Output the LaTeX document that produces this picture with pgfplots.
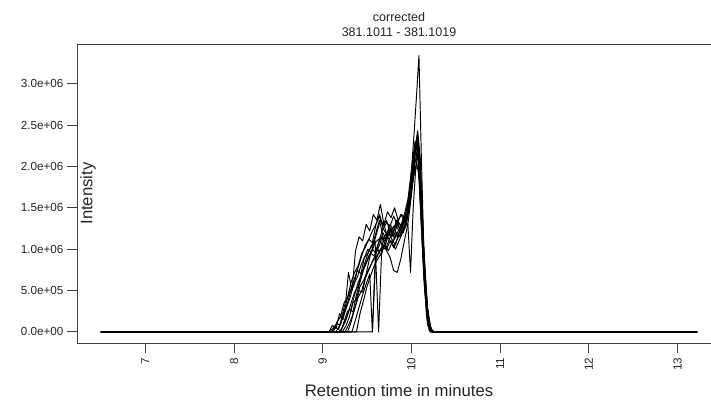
\documentclass[border=0pt]{standalone}
\usepackage{fontspec}
\setmainfont{Liberation Sans}
\usepackage{pgfplots}
\pgfplotsset{compat=1.18}
\begin{document}
\begin{tikzpicture}
\begin{axis}[
  at={(0,0)}, anchor=south west,
  scale only axis, width=644pt, height=299pt,
  xmin=6.23, xmax=13.49, ymin=-0.134, ymax=3.48,
  axis line style={black!75, line width=0.9pt},
  tick style={black!75, line width=0.9pt},
  tick align=outside, tick pos=left, major tick length=10pt,
  xtick={7,8,9,10,11,12,13},
  xticklabels={7,8,9,10,11,12,13},
  ytick={0,0.5,1,1.5,2,2.5,3},
  yticklabels={0.0e+00,5.0e+05,1.0e+06,1.5e+06,2.0e+06,2.5e+06,3.0e+06},
  xticklabel style={rotate=90, anchor=east, font=\fontsize{11.7}{14}\selectfont, text=black!85, xshift=-1pt},
  yticklabel style={font=\fontsize{11.7}{14}\selectfont, text=black!85},
  xlabel={Retention time in minutes},
  xlabel style={at={(axis description cs:0.5,0)}, anchor=base, yshift=-53pt, font=\fontsize{16.7}{20}\selectfont, text=black!85},
  ylabel={Intensity},
  ylabel style={at={(axis description cs:0.0171,0.5)}, anchor=center, font=\fontsize{16.7}{20}\selectfont, text=black!85},
  title={corrected\\381.1011 - 381.1019},
  title style={at={(axis description cs:0.5,1)}, anchor=south, align=center, yshift=-2pt, font=\fontsize{12.5}{15}\selectfont, text=black!85},
  tr/.style={black, line width=0.95pt, mark=none, line join=round},
  clip=false,
]
\addplot[tr] coordinates {(6.5,0)(9.10,0)(9.14,0.06)(9.18,0.03)(9.22,0.2)(9.26,0.38)(9.29,0.72)(9.33,0.5)(9.37,0.98)(9.41,1.15)(9.45,1.1)(9.49,1.3)(9.53,1.22)(9.57,1.42)(9.61,1.35)(9.65,1.54)(9.69,1.3)(9.73,1.15)(9.77,1.25)(9.81,1.12)(9.85,1.22)(9.89,1.3)(9.93,1.35)(9.97,1.5)(10.01,1.85)(10.05,2.2)(10.08,2.05)(10.12,1.2)(10.16,0.45)(10.2,0.1)(10.24,0)(13.22,0)};
\addplot[tr] coordinates {(6.5,0)(9.15,0)(9.19,0.08)(9.23,0.18)(9.27,0.3)(9.31,0.42)(9.35,0.58)(9.39,0.66)(9.43,0.8)(9.47,0.9)(9.51,1.0)(9.55,0.96)(9.59,1.08)(9.63,1.12)(9.67,1.05)(9.71,1.18)(9.75,1.12)(9.79,1.22)(9.83,1.28)(9.87,1.2)(9.91,1.35)(9.95,1.45)(9.99,1.8)(10.03,2.4)(10.06,2.9)(10.085,3.34)(10.11,2.2)(10.14,1.0)(10.18,0.3)(10.22,0.04)(10.25,0)(13.22,0)};
\addplot[tr] coordinates {(6.5,0)(9.2,0)(9.24,0.12)(9.28,0.25)(9.32,0.28)(9.36,0.45)(9.4,0.6)(9.44,0.7)(9.48,0.85)(9.52,0.98)(9.56,1.05)(9.6,1.2)(9.64,1.35)(9.68,1.15)(9.72,0.98)(9.76,0.9)(9.8,0.74)(9.84,0.72)(9.88,0.88)(9.92,1.1)(9.96,1.3)(10.0,1.65)(10.04,2.05)(10.08,2.15)(10.11,1.5)(10.15,0.6)(10.19,0.12)(10.23,0)(13.22,0)};
\addplot[tr] coordinates {(6.5,0)(9.56,0)(9.6,0.95)(9.64,1.05)(9.68,1.2)(9.72,1.1)(9.76,1.25)(9.8,1.15)(9.84,1.3)(9.88,1.22)(9.92,1.38)(9.96,1.5)(10.0,1.8)(10.04,2.15)(10.08,2.3)(10.11,1.7)(10.15,0.75)(10.19,0.15)(10.23,0.01)(10.26,0)(13.22,0)};
\addplot[tr] coordinates {(6.5,0)(9.07,0)(9.11,0.08)(9.15,0.04)(9.19,0.22)(9.23,0.15)(9.27,0.38)(9.31,0.5)(9.35,0.55)(9.39,0.75)(9.43,0.7)(9.47,0.9)(9.51,0.95)(9.55,1.05)(9.59,1.1)(9.63,0)(9.67,1.15)(9.71,1.05)(9.75,1.28)(9.79,1.2)(9.83,1.35)(9.87,1.25)(9.91,1.2)(9.95,1.45)(9.99,1.75)(10.03,2.1)(10.07,2.35)(10.1,2.0)(10.14,0.9)(10.18,0.2)(10.22,0.02)(10.26,0)(13.22,0)};
\addplot[tr] coordinates {(6.5,0)(9.2,0)(9.24,0.1)(9.28,0.2)(9.32,0.35)(9.36,0.48)(9.4,0.55)(9.44,0.72)(9.48,0.82)(9.52,0.92)(9.56,1.0)(9.6,0.95)(9.64,1.12)(9.68,1.25)(9.72,1.32)(9.76,1.28)(9.8,1.4)(9.84,1.3)(9.88,1.42)(9.92,1.35)(9.96,1.3)(9.99,0.72)(10.02,1.5)(10.05,2.0)(10.08,2.2)(10.11,1.6)(10.15,0.7)(10.19,0.14)(10.23,0)(13.22,0)};
\addplot[tr] coordinates {(6.5,0)(9.33,0)(9.37,0.15)(9.41,0.3)(9.45,0.45)(9.49,0.58)(9.53,0.7)(9.56,0)(9.59,0.85)(9.63,0.95)(9.67,1.02)(9.71,1.0)(9.75,1.12)(9.79,1.08)(9.83,1.2)(9.87,1.15)(9.91,1.25)(9.95,1.35)(9.99,1.7)(10.03,2.1)(10.07,2.43)(10.1,2.1)(10.14,1.0)(10.18,0.25)(10.22,0.03)(10.26,0)(13.22,0)};
\addplot[tr] coordinates {(6.5,0)(9.12,0)(9.16,0.12)(9.2,0.18)(9.24,0.35)(9.28,0.42)(9.32,0.6)(9.36,0.72)(9.4,0.8)(9.44,0.95)(9.48,1.02)(9.52,1.12)(9.56,1.08)(9.6,1.3)(9.64,1.4)(9.68,1.25)(9.72,1.18)(9.76,1.3)(9.8,1.22)(9.84,1.35)(9.88,1.28)(9.92,1.42)(9.96,1.6)(10.0,1.95)(10.04,2.3)(10.07,2.2)(10.1,1.6)(10.14,0.65)(10.18,0.1)(10.21,0)(13.22,0)};
\addplot[tr] coordinates {(6.5,0)(9.28,0)(9.32,0.12)(9.36,0.28)(9.4,0.42)(9.44,0.5)(9.48,0.65)(9.52,0.75)(9.56,0.85)(9.6,0.9)(9.64,0.98)(9.68,1.05)(9.72,1.0)(9.76,1.1)(9.8,1.02)(9.84,1.12)(9.88,1.2)(9.92,1.25)(9.96,1.4)(10.0,1.7)(10.04,2.0)(10.08,1.95)(10.11,1.3)(10.15,0.5)(10.19,0.08)(10.22,0)(13.22,0)};
\addplot[tr] coordinates {(6.5,0)(9.18,0)(9.22,0.05)(9.26,0.14)(9.3,0.28)(9.34,0.24)(9.38,0.45)(9.42,0.6)(9.46,0.75)(9.5,0.85)(9.54,0.95)(9.58,0.92)(9.62,1.05)(9.66,1.15)(9.7,1.08)(9.74,1.22)(9.78,1.15)(9.82,1.28)(9.86,1.32)(9.9,1.25)(9.94,1.45)(9.98,1.7)(10.02,2.05)(10.06,2.3)(10.09,2.1)(10.12,1.4)(10.16,0.5)(10.2,0.08)(10.24,0)(13.22,0)};
\addplot[tr] coordinates {(6.5,0)(9.25,0)(9.29,0.08)(9.33,0.18)(9.37,0.32)(9.41,0.5)(9.45,0.48)(9.49,0.7)(9.53,0.9)(9.57,1.05)(9.61,1.2)(9.65,1.35)(9.69,1.3)(9.73,1.45)(9.77,1.38)(9.81,1.5)(9.85,1.35)(9.89,1.42)(9.93,1.38)(9.97,1.55)(10.01,1.9)(10.05,2.25)(10.08,2.15)(10.12,1.3)(10.16,0.45)(10.2,0.07)(10.24,0)(13.22,0)};
\addplot[tr] coordinates {(6.5,0)(9.38,0)(9.42,0.22)(9.46,0.38)(9.5,0.55)(9.54,0.68)(9.58,0.8)(9.62,0.88)(9.66,0.95)(9.7,1.05)(9.74,0.98)(9.78,1.08)(9.82,1.0)(9.86,1.1)(9.9,1.2)(9.94,1.28)(9.98,1.55)(10.02,1.85)(10.06,2.05)(10.09,1.85)(10.13,0.9)(10.17,0.2)(10.2,0.02)(10.23,0)(13.22,0)};
\addplot[tr] coordinates {(6.5,0)(9.08,0)(9.12,0.05)(9.16,0.1)(9.2,0.08)(9.24,0.25)(9.28,0.35)(9.32,0.52)(9.36,0.65)(9.4,0.78)(9.44,0.92)(9.48,1.05)(9.52,1.12)(9.56,1.22)(9.6,1.3)(9.64,1.42)(9.68,1.28)(9.72,1.35)(9.76,1.2)(9.8,1.28)(9.84,1.15)(9.88,1.25)(9.92,1.32)(9.96,1.55)(10.0,1.9)(10.04,2.25)(10.07,2.4)(10.1,1.9)(10.14,0.85)(10.18,0.18)(10.22,0.02)(10.25,0)(13.22,0)};
\addplot[tr] coordinates {(6.5,0)(9.22,0)(9.26,0.07)(9.3,0.18)(9.34,0.35)(9.38,0.4)(9.42,0.55)(9.46,0.62)(9.5,0.72)(9.54,0.8)(9.58,0.9)(9.62,1.0)(9.66,0.92)(9.7,1.1)(9.74,1.2)(9.78,1.12)(9.82,1.05)(9.86,1.2)(9.9,1.3)(9.94,1.35)(9.98,1.6)(10.02,1.95)(10.06,2.15)(10.09,2.0)(10.12,1.3)(10.16,0.55)(10.2,0.1)(10.24,0)(13.22,0)};
\end{axis}
\pgfresetboundingbox
\path[use as bounding box] (-77pt,-56pt) rectangle (634pt,343pt);
\end{tikzpicture}
\end{document}
